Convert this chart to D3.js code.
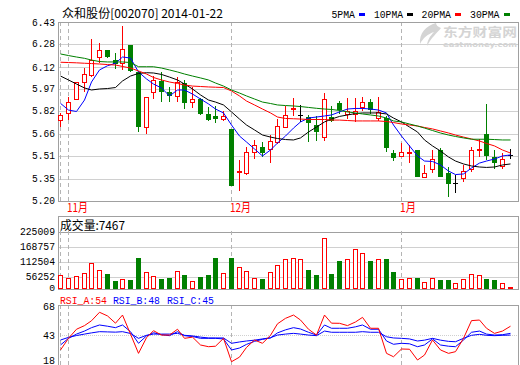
<!DOCTYPE html>
<html><head><meta charset="utf-8">
<script src="https://cdn.jsdelivr.net/npm/d3@7"></script>
<style>body{margin:0;background:#fff}svg{display:block}</style>
</head><body>
<script>
// ---------------- data ----------------
const stockTitle = "众和股份[002070] 2014-01-22";
const maNames = ["5PMA", "10PMA", "20PMA", "30PMA"];
const monthMarks = [0, 1, 22, 44];
const monthLabels = ["", "11月", "12月", "1月"];
const priceTicks = [6.43, 6.28, 6.12, 5.97, 5.82, 5.66, 5.51, 5.35, 5.20];
const volTicks = [0, 56252, 112504, 168757, 225009];
const rsiTicks = [18, 43, 68];
const volLabel = "成交量:7467";
const rsiLabels = ["RSI_A:54", "RSI_B:48", "RSI_C:45"];

const opens = [5.755,5.802,5.898,6.015,6.065,6.187,6.235,6.166,6.146,6.272,6.088,5.705,5.946,6.024,5.946,5.923,6.008,5.879,5.900,5.797,5.783,5.762,5.694,5.400,5.393,5.537,5.572,5.554,5.602,5.705,5.830,5.790,5.774,5.721,5.640,5.778,5.875,5.800,5.800,5.843,5.877,5.767,5.767,5.526,5.510,5.525,5.549,5.365,5.416,5.549,5.389,5.324,5.354,5.416,5.550,5.659,5.503,5.439,5.515];
const highs = [5.804,5.912,6.020,6.111,6.313,6.288,6.240,6.215,6.402,6.275,6.090,5.912,6.058,6.088,5.980,6.049,6.031,5.980,5.910,5.843,5.852,5.817,5.694,5.480,5.572,5.618,5.606,5.650,5.760,5.850,5.905,5.860,5.790,5.783,5.939,5.850,5.888,5.910,5.910,5.916,5.900,5.912,5.780,5.549,5.595,5.583,5.550,5.446,5.549,5.560,5.430,5.377,5.446,5.570,5.623,5.866,5.549,5.528,5.554];
const lows = [5.709,5.755,5.890,5.950,6.053,6.146,6.180,6.104,6.100,6.085,5.675,5.657,5.898,5.881,5.876,5.880,5.833,5.836,5.790,5.750,5.733,5.749,5.301,5.269,5.377,5.485,5.500,5.457,5.590,5.700,5.780,5.740,5.606,5.613,5.613,5.740,5.800,5.760,5.740,5.820,5.800,5.750,5.537,5.475,5.500,5.462,5.365,5.360,5.389,5.365,5.223,5.251,5.330,5.400,5.504,5.480,5.418,5.418,5.485];
const closes = [5.790,5.877,6.015,6.070,6.166,6.235,6.187,6.143,6.242,6.095,5.705,5.912,6.031,5.950,5.923,6.015,5.875,5.900,5.797,5.755,5.760,5.785,5.301,5.407,5.533,5.583,5.526,5.613,5.716,5.790,5.838,5.790,5.733,5.675,5.898,5.748,5.824,5.815,5.820,5.879,5.824,5.808,5.561,5.492,5.533,5.532,5.365,5.393,5.485,5.365,5.315,5.324,5.407,5.549,5.556,5.508,5.462,5.485,5.515];

const ma5 = [5.870,5.824,5.814,5.893,6.017,6.100,6.129,6.146,6.189,6.182,6.086,6.038,6.003,5.976,5.921,5.962,5.962,5.934,5.900,5.866,5.831,5.804,5.721,5.645,5.604,5.556,5.508,5.549,5.597,5.645,5.700,5.742,5.769,5.776,5.783,5.790,5.811,5.831,5.835,5.835,5.831,5.824,5.804,5.721,5.645,5.577,5.508,5.473,5.470,5.446,5.404,5.380,5.384,5.425,5.459,5.473,5.487,5.508,5.515];
const ma10 = [6.058,6.031,6.003,5.976,5.962,5.969,5.972,5.979,6.024,6.058,6.076,6.081,6.079,6.069,6.051,6.031,6.003,5.969,5.928,5.893,5.879,5.859,5.811,5.762,5.721,5.687,5.652,5.638,5.628,5.621,5.618,5.632,5.673,5.707,5.742,5.762,5.780,5.790,5.800,5.804,5.804,5.804,5.797,5.769,5.742,5.707,5.673,5.618,5.577,5.542,5.501,5.473,5.453,5.439,5.432,5.429,5.432,5.446,5.453];
const ma20 = [6.153,6.151,6.149,6.146,6.144,6.141,6.137,6.134,6.124,6.113,6.093,6.072,6.048,6.031,6.017,6.007,5.996,5.989,5.986,5.983,5.981,5.979,5.955,5.921,5.886,5.859,5.831,5.804,5.776,5.766,5.764,5.762,5.759,5.759,5.759,5.755,5.755,5.752,5.749,5.749,5.749,5.749,5.745,5.738,5.728,5.721,5.714,5.704,5.694,5.680,5.666,5.652,5.638,5.625,5.611,5.594,5.577,5.549,5.528];
const ma30 = [6.210,6.199,6.189,6.180,6.168,6.158,6.155,6.155,6.155,6.151,6.122,6.122,6.122,6.113,6.100,6.086,6.072,6.058,6.045,6.031,6.010,5.989,5.962,5.941,5.921,5.900,5.879,5.869,5.859,5.855,5.852,5.848,5.842,5.836,5.831,5.828,5.821,5.811,5.804,5.797,5.790,5.783,5.769,5.749,5.742,5.728,5.714,5.700,5.683,5.666,5.652,5.642,5.632,5.623,5.623,5.623,5.621,5.618,5.618];

const volumes = [51400,40100,47600,58900,96400,70100,56250,30000,36400,33750,116250,62600,47600,37500,41250,66400,51400,28900,45000,52500,116250,58900,116250,81400,66400,40100,37500,63750,90000,111400,115100,111400,71250,52500,190100,56250,105000,111400,148900,133900,105000,111400,112500,63750,36400,40100,41250,25100,40100,33750,33750,21400,36400,55100,51400,37500,33750,21400,7467];

const rsiA = [30.9,40.5,48,51,55,62,59,53,59.7,44,28.1,41,46.8,43.2,43.2,48,40.5,41.5,35,33.6,34,40.5,21.2,25,33,39.1,36.4,43,52.5,57,59.7,55.6,48,43.2,59.7,53,52.9,51,54,57.8,48.8,48.8,28.1,25.3,31.7,31.5,22.6,26.7,39.1,30.9,28.1,29.5,40.5,55.1,55.6,48.8,44.6,46.5,50.5];
const rsiB = [35,40.5,44,46.5,49.3,51.5,50.5,49.3,51.5,46,36.4,42.5,45.1,43.5,42.7,46,42.7,42,40.5,40.5,40.5,40,30.9,32.5,35.5,38,39.7,40.8,45,47.5,49.3,48.2,45.5,43.2,51.5,48.8,48.8,48.8,50,51.5,48,48,38.3,35.6,36.4,36,33.6,35,40,35,34,33.6,39.1,45.5,46.5,44,43.2,43.5,44.6];
const rsiC = [39.1,41.3,42.8,44,45,46,45.8,45.6,46,44.5,40.5,43,44,44,44,44.6,43,42.5,41.5,40.8,40.8,40.8,36.4,37.5,38.3,39,40,41,43.2,44,44.6,44,43.2,42.7,46.5,45.5,45.5,45.5,45.5,46,45.5,45.5,41.8,40.8,40.5,40,38.3,39,40.5,39,38,37.7,40.5,43,43.8,43,42.7,43,43.2];

// ---------------- drawing ----------------
const W = 520, H = 365;
const RED = "#ff0000", GREEN = "#008000", BLUE = "#0000ff", BLACK = "#000000";
const BORDER = "#a0a0a0", GRID = "#d0d0d0", DASH = "#b4b4b4";
const mono = "'Liberation Mono','DejaVu Sans Mono',monospace";
const cjk = "'Noto Sans CJK SC','Noto Sans CJK JP',sans-serif";
const n = closes.length;
const L = 58, R = 519;
const mainP = {top: 22, bottom: 200.5};
const volP = {top: 216, bottom: 289};
const rsiP = {top: 305, bottom: 364.5};

const svg = d3.select("body").append("svg").attr("width", W).attr("height", H)
  .style("font-family", mono);

const x = d3.scaleBand().domain(d3.range(n)).range([57, 514]);
const cx = i => Math.floor(x(i) + x.bandwidth() / 2) + 0.5;
const yP = d3.scaleLinear().domain([5.20, 6.43]).range([200.7, 22]);
const yV = d3.scaleLinear().domain([0, 225009]).range([291.7, 231.7]);
const yR = d3.scaleLinear().domain([18, 68]).range([365.6, 305]);

const crisp = g => g.attr("shape-rendering", "crispEdges");

// gridlines
const grid = svg.append("g").call(crisp);
grid.selectAll(".pg").data(priceTicks.slice(1, -1)).join("line")
  .attr("x1", L).attr("x2", R).attr("y1", d => Math.round(yP(d)) + 0.5).attr("y2", d => Math.round(yP(d)) + 0.5)
  .attr("stroke", GRID);
grid.selectAll(".vg").data(volTicks.slice(1)).join("line")
  .attr("x1", L).attr("x2", R).attr("y1", d => Math.round(yV(d)) + 0.5).attr("y2", d => Math.round(yV(d)) + 0.5)
  .attr("stroke", (d, i) => i === volTicks.length - 2 ? BORDER : GRID);
grid.selectAll(".rg").data(rsiTicks.slice(1, 2)).join("line")
  .attr("x1", L).attr("x2", R).attr("y1", d => Math.round(yR(d)) + 0.5).attr("y2", d => Math.round(yR(d)) + 0.5)
  .attr("stroke", GRID).attr("stroke-dasharray", "1,1");

// month dashed lines
const panels = [mainP, {top: volP.top + 15, bottom: volP.bottom}, rsiP];
panels.forEach(p => {
  grid.selectAll(null).data(monthMarks).join("line")
    .attr("x1", d => cx(d)).attr("x2", d => cx(d)).attr("y1", p.top).attr("y2", p.bottom)
    .attr("stroke", DASH).attr("stroke-dasharray", "4,3");
});

// borders
[mainP, volP, rsiP].forEach(p => {
  svg.append("rect").attr("x", L + 0.5).attr("y", Math.round(p.top) + 0.5)
    .attr("width", R - L - 1).attr("height", Math.round(p.bottom) - Math.round(p.top))
    .attr("fill", "none").attr("stroke", BORDER).call(crisp);
});

// watermark
const wm = svg.append("g").attr("fill", "#d4d4d4");
wm.append("path").attr("d", "M436,23 C426,26 419,33 420,44 C423,38 428,34 434,32 C430,36 427,41 427,46 C431,38 437,33 441,28 C438,27 436,25 436,23 Z");
wm.append("text").attr("x", 443).attr("y", 36.5).attr("font-family", cjk).attr("font-weight", "bold")
  .attr("font-size", 12.5).attr("textLength", 74).attr("lengthAdjust", "spacingAndGlyphs").text("东方财富网");
wm.append("text").attr("x", 443).attr("y", 47).attr("font-family", "'DejaVu Sans',sans-serif").attr("font-weight", "bold")
  .attr("font-size", 7).attr("textLength", 74).attr("lengthAdjust", "spacingAndGlyphs").text("eastmoney.com");

// candles
const cg = svg.append("g").call(crisp);
d3.range(n).forEach(i => {
  const o = opens[i], c = closes[i], h = highs[i], l = lows[i];
  const col = c > o ? RED : (c < o ? GREEN : BLACK);
  cg.append("line").attr("x1", cx(i)).attr("x2", cx(i)).attr("y1", yP(h)).attr("y2", yP(l)).attr("stroke", col);
  if (c > o) {
    cg.append("rect").attr("x", cx(i) - 2).attr("width", 4)
      .attr("y", Math.round(yP(c)) + 0.5).attr("height", Math.max(1, Math.round(yP(o)) - Math.round(yP(c))))
      .attr("fill", "#fff").attr("stroke", RED);
  } else if (c < o) {
    cg.append("rect").attr("x", cx(i) - 2.5).attr("width", 5)
      .attr("y", yP(o)).attr("height", Math.max(1, yP(c) - yP(o))).attr("fill", GREEN);
  } else {
    cg.append("line").attr("x1", cx(i) - 2.5).attr("x2", cx(i) + 2.5)
      .attr("y1", Math.round(yP(c)) + 0.5).attr("y2", Math.round(yP(c)) + 0.5).attr("stroke", BLACK);
  }
});

// moving averages
const maSeries = [[ma5, BLUE], [ma10, BLACK], [ma20, RED], [ma30, GREEN]];
const lineP = d3.line().x((d, i) => cx(i)).y(d => yP(d));
maSeries.forEach(([arr, col]) => {
  svg.append("path").datum(arr).attr("d", lineP).attr("fill", "none").attr("stroke", col).attr("stroke-width", 1);
});

// volume bars
const vg = svg.append("g").call(crisp);
d3.range(n).forEach(i => {
  const hgt = yV(0) - yV(volumes[i]);
  const top = volP.bottom - hgt;
  if (closes[i] >= opens[i]) {
    vg.append("rect").attr("x", cx(i) - 2).attr("width", 4)
      .attr("y", Math.round(top) + 0.5).attr("height", Math.max(1, volP.bottom - Math.round(top) - 1))
      .attr("fill", "#fff").attr("stroke", RED);
  } else {
    vg.append("rect").attr("x", cx(i) - 2.5).attr("width", 5)
      .attr("y", top).attr("height", hgt).attr("fill", GREEN);
  }
});

// RSI lines
const lineR = d3.line().x((d, i) => cx(i)).y(d => yR(d));
[[rsiC, BLUE], [rsiB, BLUE], [rsiA, RED]].forEach(([arr, col]) => {
  svg.append("path").datum(arr).attr("d", lineR).attr("fill", "none").attr("stroke", col).attr("stroke-width", 1);
});

// axis labels
const lab = svg.append("g").attr("font-size", 10).attr("text-anchor", "end").attr("fill", "#000");
lab.selectAll(".pl").data(priceTicks).join("text")
  .attr("x", 55).attr("y", d => yP(d) + 3.5).text(d => d.toFixed(2))
  .attr("textLength", 23).attr("lengthAdjust", "spacingAndGlyphs");
lab.selectAll(".vl").data(volTicks).join("text")
  .attr("font-size", d => d === 0 ? 9.5 : 10)
  .attr("x", 55).attr("y", d => d === 0 ? volP.bottom + 1.5 : yV(d) + 3.5).text(d => d)
  .attr("textLength", d => String(d).length * 5.85).attr("lengthAdjust", "spacingAndGlyphs");
lab.selectAll(".rl").data(rsiTicks).join("text")
  .attr("x", 55).attr("y", d => Math.max(Math.min(yR(d), rsiP.bottom - 4.5), rsiP.top + 1) + 3.5).text(d => d)
  .attr("textLength", 12).attr("lengthAdjust", "spacingAndGlyphs");

// month labels
svg.selectAll(".ml").data(monthMarks.map((d, i) => [d, monthLabels[i]]).filter(d => d[1])).join("text")
  .attr("x", d => cx(d[0]) - 1.5).attr("y", 212).attr("fill", RED).attr("font-size", 12)
  .attr("font-family", cjk).text(d => d[1])
  .attr("textLength", d => d[1].length === 3 ? 21 : 16).attr("lengthAdjust", "spacingAndGlyphs");

// title
svg.append("text").attr("x", 62).attr("y", 17.5).attr("font-family", cjk).attr("font-size", 12)
  .attr("textLength", 161).attr("lengthAdjust", "spacingAndGlyphs").text(stockTitle);

// legend
const legX = [331.5, 374, 421.5, 470];
const legW = [23.5, 29, 29.5, 29.5];
const legC = [BLUE, BLACK, RED, GREEN];
maNames.forEach((nm, i) => {
  svg.append("text").attr("x", legX[i]).attr("y", 17.5).attr("font-size", 11)
    .attr("textLength", legW[i]).attr("lengthAdjust", "spacingAndGlyphs").text(nm);
  svg.append("rect").attr("x", legX[i] + legW[i] + 4).attr("y", 13).attr("width", 6).attr("height", 2.5)
    .attr("fill", legC[i]).call(crisp);
});

// volume label
svg.append("text").attr("x", 60).attr("y", 230).attr("font-family", cjk).attr("font-size", 12)
  .attr("textLength", 65).attr("lengthAdjust", "spacingAndGlyphs").text(volLabel);

// RSI labels
const rsiLX = [60, 113, 167];
const rsiLC = [RED, BLUE, BLUE];
rsiLabels.forEach((t, i) => {
  svg.append("text").attr("x", rsiLX[i]).attr("y", 303.5).attr("font-size", 11).attr("fill", rsiLC[i])
    .attr("textLength", 47).attr("lengthAdjust", "spacingAndGlyphs").text(t);
});
</script>
</body></html>
